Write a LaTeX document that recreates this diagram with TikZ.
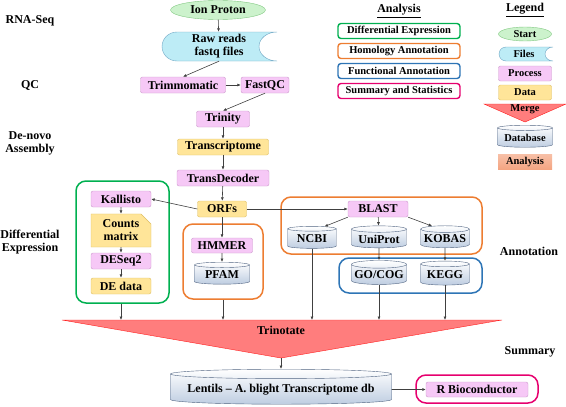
\documentclass[tikz,border=0pt]{standalone}
\usepackage{fontspec}
\setmainfont{Liberation Serif}
\usetikzlibrary{shapes.geometric,shapes.misc,arrows.meta}

\definecolor{procfill}{RGB}{246,200,246}
\definecolor{procline}{RGB}{204,153,204}
\definecolor{datfill}{RGB}{255,229,153}
\definecolor{datline}{RGB}{222,190,100}
\definecolor{startfill}{RGB}{204,242,204}
\definecolor{startline}{RGB}{130,200,130}
\definecolor{filefill}{RGB}{189,236,246}
\definecolor{fileline}{RGB}{110,165,195}
\definecolor{dbfill}{RGB}{190,205,225}
\definecolor{dbline}{RGB}{80,100,130}
\definecolor{mergefill}{RGB}{255,125,125}
\definecolor{mergeline}{RGB}{255,30,30}
\definecolor{degreen}{RGB}{0,176,80}
\definecolor{homorange}{RGB}{237,125,49}
\definecolor{funblue}{RGB}{46,117,182}
\definecolor{sumpink}{RGB}{230,0,110}
\definecolor{anafill}{RGB}{244,165,130}

\tikzset{
  proc/.style={draw=procline, fill=procfill, rounded corners=2pt, inner sep=1pt, minimum height=16},
  dat/.style={draw=datline, fill=datfill, rounded corners=2pt, inner sep=1pt, minimum height=16},
  db/.style={cylinder, shape border rotate=90, aspect=0.15, draw=dbline, top color=white, bottom color=dbfill, inner sep=1pt},
  grp/.style={rounded corners=10pt, line width=1.5pt},
  arr/.style={-{Latex[length=3.5pt,width=3pt]}, draw=black!75, line width=0.6pt},
  lab/.style={align=center},
  key/.style={fill=white, rounded corners=3pt, line width=1.4pt, minimum width=122, minimum height=15, inner sep=1pt, font=\bfseries\fontsize{10.5}{12}\selectfont},
  small/.style={font=\bfseries\fontsize{10.5}{12}\selectfont},
  merge/.style={draw=mergeline, fill=mergefill},
}

\begin{document}
\begin{tikzpicture}[x=1pt, y=1pt, font=\bfseries\fontsize{12}{13}\selectfont]
\useasboundingbox (0,0) rectangle (566,-407);

% stage labels
\node[lab] (rnaseq) at (30,-21) {RNA-Seq};
\node[lab] (qc) at (30,-85) {QC};
\node[lab] (denovo) at (30,-143) {De-novo\\Assembly};
\node[lab] (diffexp) at (30,-242) {Differential\\Expression};
\node[lab] (annot) at (529,-251) {Annotation};
\node[lab] (summ) at (530,-352) {Summary};

% group boxes
\node[grp, draw=degreen, minimum width=93, minimum height=122] (degrp) at (122.5,-242) {};
\node[grp, draw=homorange, minimum width=80, minimum height=75] (hmgrp) at (223,-261.5) {};
\node[grp, draw=homorange, minimum width=201, minimum height=57] (blgrp) at (381.5,-225.5) {};
\node[grp, draw=funblue, minimum width=143, minimum height=35] (fngrp) at (410.5,-275.5) {};
\node[grp, draw=sumpink, minimum width=122, minimum height=28] (rgrp) at (477,-389) {};

% pipeline
\node[ellipse, draw=startline, fill=startfill, minimum width=95, minimum height=19, inner sep=0pt] (ion) at (218,-10) {Ion Proton};
\draw[fileline, fill=filefill] (277,-32) -- (177,-32)
  arc[start angle=90, end angle=270, x radius=15, y radius=14.5] -- (277,-61)
  arc[start angle=270, end angle=90, x radius=18, y radius=14.5] -- cycle;
\node[lab, minimum width=115, minimum height=29, inner sep=0pt] (raw) at (219,-46.5) {Raw reads\\fastq files};
\node[proc, minimum width=85] (trim) at (183,-85) {Trimmomatic};
\node[proc, minimum width=48] (fastqc) at (265,-85) {FastQC};
\node[proc, minimum width=53] (trinity) at (223,-119) {Trinity};
\node[dat, minimum width=91] (trans) at (223,-147) {Transcriptome};
\node[proc, minimum width=92] (tdec) at (223,-178) {TransDecoder};
\node[dat, minimum width=49] (orfs) at (222,-209) {ORFs};

\node[proc, minimum width=60] (kallisto) at (121,-199) {Kallisto};
\node[chamfered rectangle, chamfered rectangle corners=north east, chamfered rectangle xsep=5pt, chamfered rectangle ysep=5pt,
  draw=datline, fill=datfill, lab, minimum width=60, minimum height=29, inner sep=1pt] (counts) at (121,-230.5) {Counts\\matrix};
\node[proc, minimum width=60] (deseq) at (121,-261) {DESeq2};
\node[dat, minimum width=60] (dedata) at (121,-286) {DE data};

\node[proc, minimum width=61, minimum height=15] (hmmer) at (222,-245.5) {HMMER};
\node[db, minimum width=55, minimum height=22] (pfam) at (222,-275) {PFAM};

\node[proc, minimum width=60] (blast) at (378,-209) {BLAST};
\node[db, minimum width=49, minimum height=22] (ncbi) at (312,-239) {NCBI};
\node[db, minimum width=55, minimum height=22] (uniprot) at (379,-239) {UniProt};
\node[db, minimum width=49, minimum height=22] (kobas) at (445,-239) {KOBAS};
\node[db, minimum width=55, minimum height=24] (gocog) at (379,-275) {GO/COG};
\node[db, minimum width=49, minimum height=24] (kegg) at (445,-275) {KEGG};

\coordinate (tl) at (62,-320);
\coordinate (tr) at (502,-320);
\coordinate (tip) at (281,-358);
\draw[merge] (tl) -- (tr) -- (tip) -- cycle;
\node (trinotate) at (281,-330) {Trinotate};

\node[db, aspect=0.05, minimum width=221, minimum height=35] (lentils) at (281,-389.5) {Lentils -- A. blight Transcriptome db};
\node[proc, minimum width=102, minimum height=15] (rbio) at (477,-389.5) {R Bioconductor};

% connectors
\draw[arr] (ion) -- (raw);
\draw[arr] (raw.south) -- (trim.north);
\draw[arr] (trim) -- (fastqc);
\draw[arr] (fastqc.south) -- (trinity.north);
\draw[arr] (trinity) -- (trans);
\draw[arr] (trans) -- (tdec);
\draw[arr] (tdec) -- (orfs);
\draw[arr] (orfs.west) -- (kallisto.east);
\draw[arr] (orfs.east) -- (blast.west);
\draw[arr] (orfs) -- (hmmer);
\draw[arr] (hmmer) -- (pfam);
\draw[arr] (kallisto) -- (counts);
\draw[arr] (counts) -- (deseq);
\draw[arr] (deseq) -- (dedata);
\draw[arr] (blast.south west) -- (ncbi.north east);
\draw[arr] (blast) -- (uniprot);
\draw[arr] (blast.south east) -- (kobas.north west);
\draw[arr] (uniprot) -- (gocog);
\draw[arr] (kobas) -- (kegg);

\draw[arr] (dedata |- degrp.south) -- (dedata |- tl);
\draw[arr] (hmgrp.south) -- (hmgrp |- tl);
\foreach \n in {ncbi,gocog,kegg}
       \draw[arr] (\n.south) -- (\n |- tl);
\draw[arr] (tip) -- (lentils.north);
\draw[arr] (lentils.east) -- (rbio.west);

% analysis key
\node (anahead) at (399,-11) {\underline{Analysis}};
\node[key, draw=degreen] (keyde) at (399,-31) {Differential Expression};
\node[key, draw=homorange] (keyhom) at (399,-51) {Homology Annotation};
\node[key, draw=funblue] (keyfun) at (399,-71) {Functional Annotation};
\node[key, draw=sumpink] (keysum) at (399,-91) {Summary and Statistics};

% legend
\node (leghead) at (525,-10) {\underline{Legend}};
\node[small, ellipse, draw=startline, fill=startfill, minimum width=53, minimum height=14, inner sep=0pt] (lstart) at (525,-34) {Start};
\draw[fileline, fill=filefill] (553,-47) -- (506,-47)
  arc[start angle=90, end angle=270, x radius=7, y radius=7] -- (553,-61)
  arc[start angle=270, end angle=90, x radius=8, y radius=7] -- cycle;
\node[small, minimum width=54, minimum height=14, inner sep=0pt] (lfiles) at (524,-54) {Files};
\node[small, proc, minimum width=53, minimum height=15] (lproc) at (525,-73.5) {Process};
\node[small, dat, minimum width=53, minimum height=15] (ldata) at (525,-92.5) {Data};
\coordinate (ml) at (484,-104);
\coordinate (mr) at (566,-104);
\coordinate (mtip) at (525,-122);
\draw[merge] (ml) -- (mr) -- (mtip) -- cycle;
\node[small] (lmerge) at (525,-109.5) {Merge};
\node[small, db, aspect=0.12, minimum width=55, minimum height=22] (ldb) at (525,-138) {Database};
\node[small, top color=anafill!70, bottom color=anafill, minimum width=54, minimum height=15, inner sep=0pt] (lana) at (525,-161.5) {Analysis};
\end{tikzpicture}
\end{document}
